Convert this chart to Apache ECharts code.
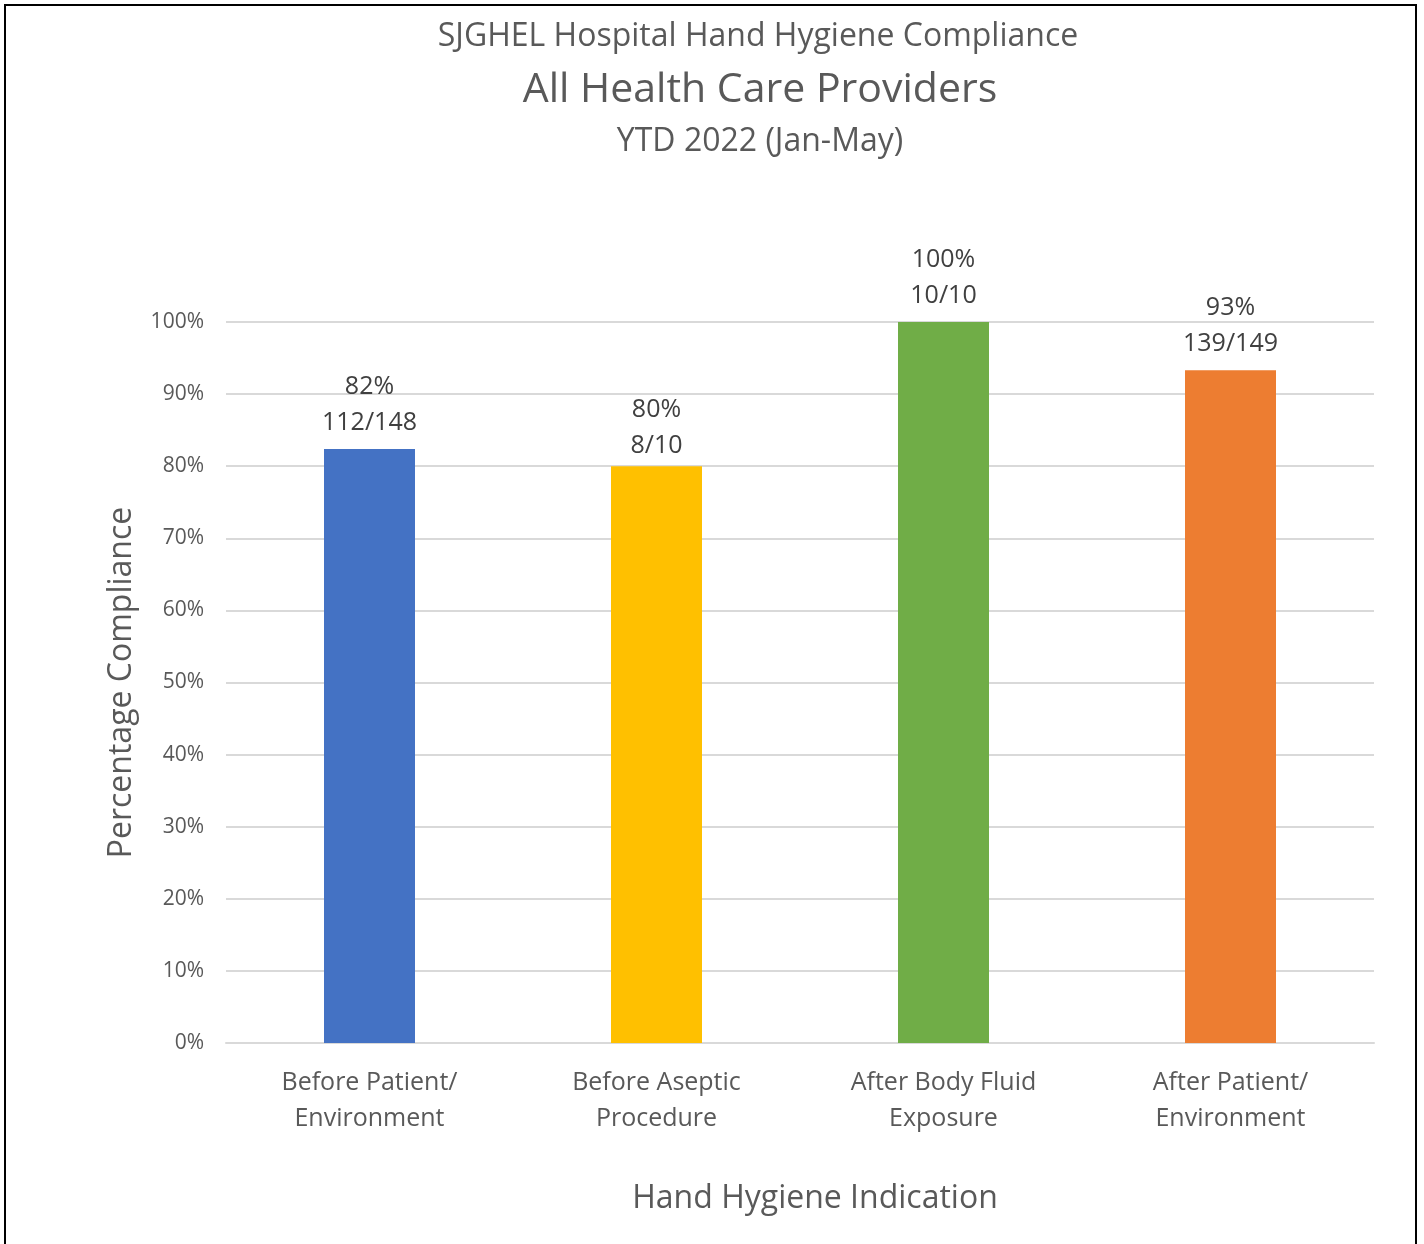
<!DOCTYPE html>
<html>
<head>
    <meta charset="utf-8">
    <title>Hand Hygiene Compliance</title>
    <script src="https://cdn.jsdelivr.net/npm/echarts@6/dist/echarts.min.js"></script>
    <style>
        html, body { margin: 0; padding: 0; background: #fff; }
    </style>
</head>
<body>
    <div id="main" style="width: 1424px;height:1244px;"></div>
    <script type="text/javascript">
        // data
        var categories = ['Before Patient/\nEnvironment', 'Before Aseptic\nProcedure', 'After Body Fluid\nExposure', 'After Patient/\nEnvironment'];
        var compliance = [82.4, 80, 100, 93.3];
        var pctLabels = ['82%', '80%', '100%', '93%'];
        var counts = ['112/148', '8/10', '10/10', '139/149'];
        var barColors = ['#4472C4', '#FFC000', '#70AD47', '#ED7D31'];
        var yTicks = [0, 10, 20, 30, 40, 50, 60, 70, 80, 90, 100];

        var font = 'Open Sans';
        var myChart = echarts.init(document.getElementById('main'));

        var seriesData = compliance.map(function (v, i) {
            var item = { value: v, itemStyle: { color: barColors[i] } };
            // the 80% label sits a little closer to its bar in the original
            if (i === 1) item.label = { distance: 2 };
            return item;
        });

        var option = {
            backgroundColor: '#fff',
            animation: false,
            textStyle: { fontFamily: font },
            title: [
                {
                    text: 'SJGHEL Hospital Hand Hygiene Compliance',
                    left: 753, top: 16, textAlign: 'center',
                    textStyle: { fontFamily: font, fontSize: 32, fontWeight: 'normal', color: '#595959' }
                },
                {
                    text: 'All Health Care Providers',
                    left: 755, top: 65, textAlign: 'center',
                    textStyle: { fontFamily: font, fontSize: 41, fontWeight: 'normal', color: '#595959' }
                },
                {
                    text: 'YTD 2022 (Jan-May)',
                    left: 755, top: 121, textAlign: 'center',
                    textStyle: { fontFamily: font, fontSize: 32, fontWeight: 'normal', color: '#595959' }
                }
            ],
            graphic: [
                {
                    type: 'rect',
                    shape: { x: 5, y: 5, width: 1411, height: 1270 },
                    style: { fill: 'none', stroke: '#000', lineWidth: 2 },
                    silent: true
                }
            ],
            grid: { left: 226, right: 50, top: 322, bottom: 201, containLabel: false },
            xAxis: {
                type: 'category',
                data: categories,
                name: 'Hand Hygiene Indication',
                nameLocation: 'middle',
                nameGap: 140,
                nameTextStyle: { fontFamily: font, fontSize: 32, color: '#595959', padding: [0, 0, 0, 30] },
                axisLine: { show: true, lineStyle: { color: '#d9d9d9', width: 2 } },
                axisTick: { show: false },
                axisLabel: {
                    fontFamily: font, fontSize: 25, color: '#595959',
                    lineHeight: 36, margin: 22, interval: 0
                }
            },
            yAxis: {
                type: 'value',
                min: 0, max: 100, interval: 10,
                name: 'Percentage Compliance',
                nameLocation: 'middle',
                nameGap: 88,
                nameTextStyle: { fontFamily: font, fontSize: 32, color: '#595959' },
                axisLine: { show: false },
                axisTick: { show: false },
                axisLabel: {
                    fontFamily: font, fontSize: 21, color: '#595959', margin: 22,
                    formatter: function (v) { return yTicks.indexOf(v) >= 0 ? v + '%' : ''; }
                },
                splitLine: { lineStyle: { color: '#d9d9d9', width: 2 } }
            },
            series: [
                {
                    type: 'bar',
                    data: seriesData,
                    barWidth: 91,
                    label: {
                        show: true,
                        position: 'top',
                        distance: 8,
                        fontFamily: font,
                        fontSize: 25,
                        lineHeight: 36,
                        color: '#404040',
                        formatter: function (p) {
                            return pctLabels[p.dataIndex] + '\n' + counts[p.dataIndex];
                        }
                    }
                }
            ]
        };

        myChart.setOption(option);
    </script>
</body>
</html>
